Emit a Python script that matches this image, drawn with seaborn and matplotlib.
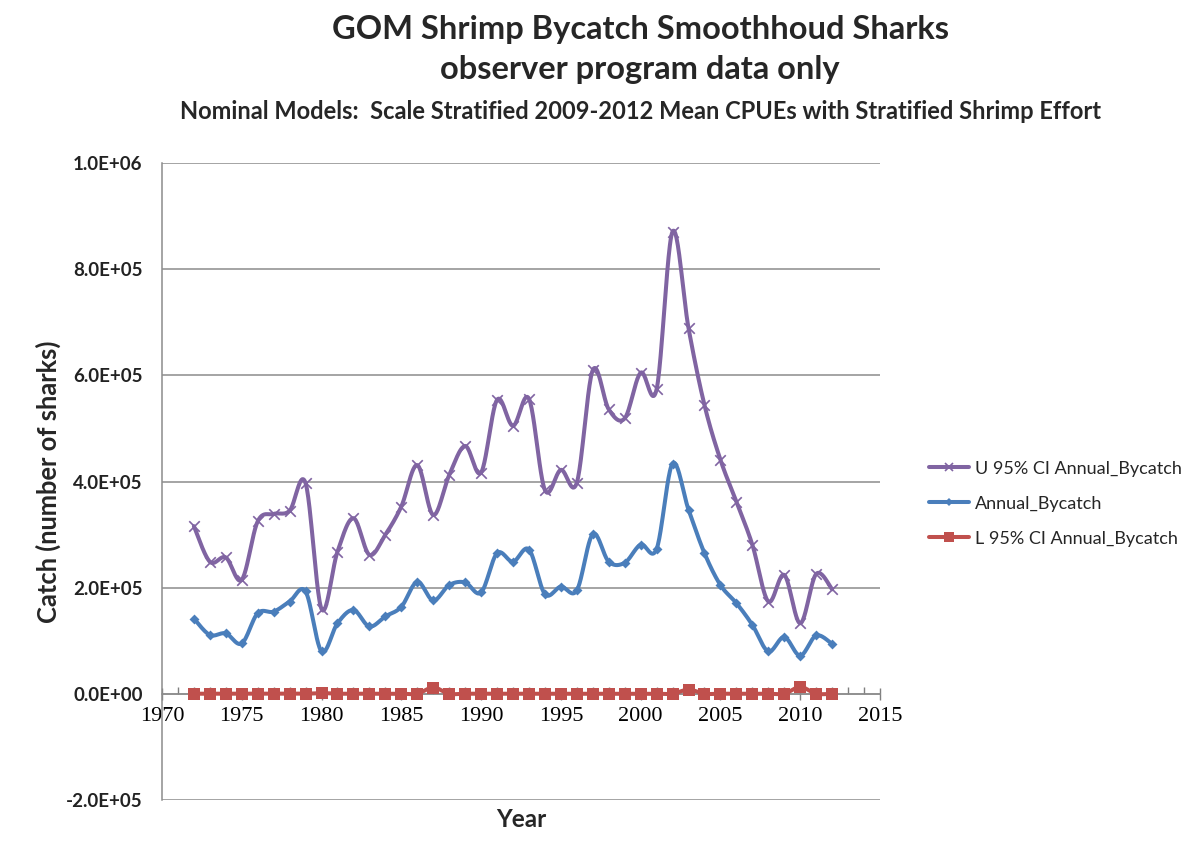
import numpy as np
import pandas as pd
import matplotlib
matplotlib.use("Agg")
import matplotlib.pyplot as plt
from matplotlib.lines import Line2D
from matplotlib.ticker import MultipleLocator, FuncFormatter
import seaborn as sns

years = list(range(1972, 2013))

upper_ci = [316000, 249000, 257000, 215000, 325000, 339000, 345000, 397000, 160000, 268000,
            331000, 262000, 300000, 353000, 431000, 337000, 412000, 467000, 417000, 554000,
            505000, 556000, 384000, 422000, 398000, 610000, 536000, 519000, 605000, 574000,
            871000, 689000, 544000, 441000, 362000, 281000, 174000, 224000, 133000, 226000,
            197000]

annual = [142000, 111000, 114000, 95000, 152000, 155000, 174000, 193000, 80000, 133000,
          158000, 127000, 146000, 164000, 211000, 176000, 205000, 210000, 191000, 265000,
          249000, 272000, 188000, 202000, 195000, 301000, 249000, 247000, 281000, 273000,
          434000, 347000, 265000, 205000, 171000, 130000, 80000, 107000, 72000, 110000,
          94000]

lower_ci = [300, 300, 300, 300, 300, 300, 300, 300, 1500, 300,
            300, 300, 300, 300, 300, 12000, 300, 300, 300, 300,
            300, 300, 300, 300, 300, 300, 300, 300, 300, 300,
            300, 8000, 300, 300, 300, 300, 300, 300, 13000, 300,
            300]

series_names = ["U 95% CI Annual_Bycatch", "Annual_Bycatch", "L 95% CI Annual_Bycatch"]
series_values = [upper_ci, annual, lower_ci]
series_colors = ["#8064A2", "#4A7EBB", "#C0504D"]
series_markers = ["x", "D", "s"]
series_msize = [6, 4, 6.5]

title_main = "GOM Shrimp Bycatch Smoothhoud Sharks\nobserver program data only"
title_sub = "Nominal Models:  Scale Stratified 2009-2012 Mean CPUEs with Stratified Shrimp Effort"


def smooth_curve(x, y, steps=24):
    """Cubic Bezier smoothing through every point (Catmull-Rom style tangents)."""
    x = np.asarray(x, float)
    y = np.asarray(y, float)
    px = np.concatenate([[x[0]], x, [x[-1]]])
    py = np.concatenate([[y[0]], y, [y[-1]]])
    t = np.linspace(0, 1, steps, endpoint=False)[:, None]
    xs, ys = [], []
    for i in range(1, len(px) - 2):
        p0 = np.array([px[i], py[i]])
        p3 = np.array([px[i + 1], py[i + 1]])
        p1 = p0 + (np.array([px[i + 1], py[i + 1]]) - np.array([px[i - 1], py[i - 1]])) / 6.0
        p2 = p3 - (np.array([px[i + 2], py[i + 2]]) - np.array([px[i], py[i]])) / 6.0
        b = ((1 - t) ** 3) * p0 + 3 * ((1 - t) ** 2) * t * p1 + 3 * (1 - t) * t ** 2 * p2 + t ** 3 * p3
        xs.append(b[:, 0])
        ys.append(b[:, 1])
    xs.append([x[-1]])
    ys.append([y[-1]])
    return np.concatenate(xs), np.concatenate(ys)


sns.set_theme(style="white")
plt.rcParams["font.family"] = ["Lato", "DejaVu Sans"]

fig = plt.figure(figsize=(11.9, 8.61), dpi=100)
ax = fig.add_axes([0.1361, 0.0708, 0.6034, 0.7398])

raw_frames, smooth_frames = [], []
for name, vals in zip(series_names, series_values):
    raw_frames.append(pd.DataFrame({"Year": years, "Catch": vals, "Series": name}))
    sx, sy = smooth_curve(years, vals)
    smooth_frames.append(pd.DataFrame({"Year": sx, "Catch": sy, "Series": name}))
raw = pd.concat(raw_frames, ignore_index=True)
smooth = pd.concat(smooth_frames, ignore_index=True)
palette = dict(zip(series_names, series_colors))

# gridlines
for yv in np.arange(-200000, 1000001, 200000):
    ax.axhline(yv, color="#8C8C8C", lw=1.1, zorder=0)

# smoothed lines, drawn lower series first
for name in series_names[::-1]:
    sub = smooth[smooth["Series"] == name]
    sns.lineplot(data=sub, x="Year", y="Catch", color=palette[name], lw=2.9,
                 sort=False, estimator=None, ax=ax, legend=False, zorder=3)

# markers at the yearly values
for name, mk, ms in zip(series_names, series_markers, series_msize):
    sub = raw[raw["Series"] == name]
    kw = dict(marker=mk, s=ms ** 2 * 1.6, color=palette[name], ax=ax, legend=False, zorder=4)
    if mk == "x":
        kw.update(linewidth=1.2)
    else:
        kw.update(linewidth=0)
    sns.scatterplot(data=sub, x="Year", y="Catch", **kw)

ax.set_xlim(1970, 2015)
ax.set_ylim(-200000, 1000000)

for s in ["top", "right"]:
    ax.spines[s].set_visible(False)
ax.spines["left"].set_color("#8C8C8C")
ax.spines["left"].set_linewidth(1.1)
ax.spines["bottom"].set_position(("data", 0))
ax.spines["bottom"].set_color("#8C8C8C")
ax.spines["bottom"].set_linewidth(1.1)

ax.xaxis.set_major_locator(MultipleLocator(5))
ax.xaxis.set_minor_locator(MultipleLocator(1))
ax.yaxis.set_major_locator(MultipleLocator(200000))
ax.tick_params(axis="x", which="major", direction="inout", length=9, width=1,
               color="#7F7F7F", bottom=True, pad=5)
ax.tick_params(axis="x", which="minor", direction="in", length=5, width=1,
               color="#7F7F7F", bottom=True)
ax.tick_params(axis="y", which="both", length=0, pad=14)
ax.yaxis.set_major_formatter(FuncFormatter(lambda v, p: "{:.1E}".format(v)))

for lab in ax.get_xticklabels():
    lab.set_fontfamily("Liberation Serif")
    lab.set_fontsize(16)
    lab.set_color("black")
for lab in ax.get_yticklabels():
    lab.set_fontsize(13.5)
    lab.set_fontweight("bold")
    lab.set_color("#222222")

ax.set_xlabel("Year", fontsize=17.5, fontweight="bold")
ax.xaxis.set_label_coords(0.5, -0.012)
ax.set_ylabel("Catch (number of sharks)", fontsize=18.4, fontweight="bold")
ax.yaxis.set_label_coords(-0.14, 0.5)

fig.text(0.538, 0.982, title_main, ha="center", va="top", fontsize=23.5,
         fontweight="bold", linespacing=1.42)
fig.text(0.538, 0.871, title_sub, ha="center", va="center", fontsize=17, fontweight="bold")

handles = [Line2D([0], [0], color=c, lw=2.9, marker=m, markersize=ms,
                  markeredgewidth=1.2 if m == "x" else 0)
           for c, m, ms in zip(series_colors, series_markers, series_msize)]
fig.legend(handles, series_names, loc="center left", bbox_to_anchor=(0.775, 0.415),
           frameon=False, fontsize=13, handlelength=2.2, handletextpad=0.3,
           labelspacing=1.05, borderaxespad=0)

fig.savefig("out.png", dpi=100, facecolor="white")
